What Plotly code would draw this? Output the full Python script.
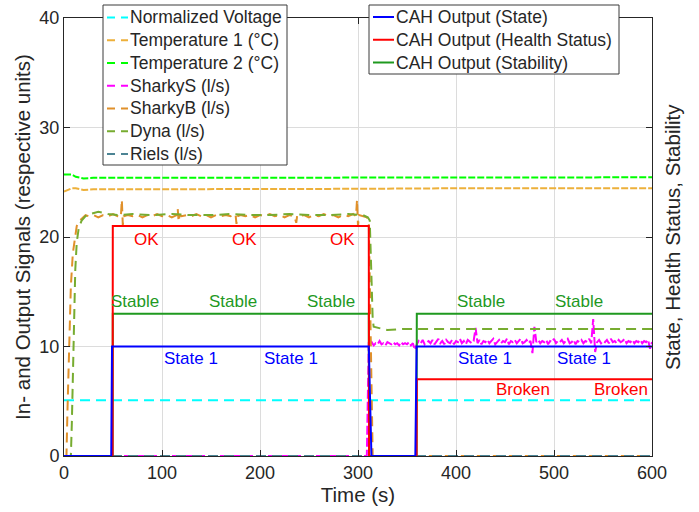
import plotly.graph_objects as go

# ---------------- data ----------------
voltage_t = [0, 600]
voltage_v = [5.1, 5.1]

temp1_t = [0, 4, 8, 12, 16, 20, 30, 50, 100, 200, 300, 400, 500, 600]
temp1_v = [24.15, 24.3, 24.45, 24.45, 24.35, 24.3, 24.35, 24.35, 24.35, 24.4, 24.4, 24.45, 24.45, 24.45]

temp2_t = [0, 4, 8, 12, 16, 20, 30, 50, 100, 200, 300, 400, 500, 600]
temp2_v = [25.7, 25.72, 25.7, 25.5, 25.4, 25.35, 25.4, 25.4, 25.42, 25.42, 25.45, 25.45, 25.45, 25.45]

sharkys_head_t = [0, 309, 311]
sharkys_head_v = [0, 0, 10.4]
sharkys_noise_start = 312
sharkys_noise_step = 2
sharkys_noise_v = [
    10.2, 10.4, 10.1, 10.3, 10.2, 10.5, 10.2, 10.3, 10.1, 10.4,
    10.3, 10.2, 10.4, 10.2, 10.3, 10.1, 10.4, 10.2, 10.3, 10.2,
    10.4, 10.1, 10.3, 9.7, 10.2, 10.5, 10.3, 10.6, 10.2, 10.4,
    10.5, 10.3, 10.6, 10.2, 10.4, 10.7, 10.3, 10.5, 10.2, 10.6,
    10.4, 10.3, 10.6, 10.2, 10.5, 10.4, 10.7, 10.3, 10.5, 10.2,
    10.6, 10.4, 10.3, 10.5, 11.7, 10.3, 10.6, 10.2, 10.5, 10.4,
    10.6, 10.3, 10.5, 10.7, 10.2, 10.4, 10.6, 10.3, 10.5, 10.4,
    10.7, 10.2, 10.5, 10.4, 10.6, 10.3, 10.5, 10.7, 10.3, 10.4,
    10.6, 10.3, 10.5, 9.4, 11.8, 10.4, 10.6, 10.3, 10.5, 10.4,
    10.6, 10.2, 10.5, 10.4, 10.7, 10.3, 10.5, 10.4, 10.6, 10.3,
    10.5, 10.7, 10.3, 10.4, 10.6, 10.2, 10.5, 10.4, 10.6, 10.3,
    10.5, 10.4, 10.7, 10.3, 12.5, 9.5, 10.4, 10.6, 10.3, 10.5,
    10.4, 10.6, 10.3, 10.7, 10.4, 10.5, 10.3, 10.6, 10.4, 10.5,
    10.7, 10.3, 10.5, 10.4, 10.6, 10.3, 10.5, 10.4, 10.6, 10.3,
    10.5, 10.4, 10.6, 9.8, 10.4,
]

sharkyb_t = [0, 2.5, 3.5, 5, 7, 9, 11, 13, 16, 19, 22,
             25, 30, 35, 40, 45, 50, 55, 58, 59, 60, 61, 65, 70, 75, 80, 85, 90, 95,
             100, 105, 110, 115, 116, 117, 118, 120, 125, 130, 135, 140, 145, 150,
             155, 160, 165, 170, 175, 176, 177, 180, 185, 190, 195, 200, 205, 210,
             215, 220, 225, 230, 235, 237, 238, 240, 245, 250, 255, 260, 265, 270,
             275, 280, 285, 290, 295, 298, 299, 300, 301, 305, 309, 311, 312.5, 314,
             315, 600]
sharkyb_v = [0, 0, 4, 9, 15.5, 18.5, 20, 21, 21.5, 21.8, 22.0,
             21.9, 22.0, 21.8, 22.0, 21.9, 22.1, 21.9, 21.8, 23.4, 21.1, 21.9, 22.0, 21.9, 22.0, 21.8, 22.0, 21.9, 22.1,
             21.9, 22.0, 21.8, 22.0, 22.6, 21.4, 22.0, 21.9, 22.0, 21.9, 22.1, 21.9, 22.0, 21.8,
             22.0, 21.9, 22.0, 21.9, 22.1, 21.2, 21.9, 22.0, 21.9, 22.0, 21.8, 22.0, 21.9, 22.1,
             21.9, 22.0, 21.8, 22.0, 21.9, 21.3, 22.0, 21.9, 22.0, 21.8, 22.0, 21.9, 22.1, 21.9,
             22.0, 21.8, 22.0, 21.9, 22.1, 21.9, 23.4, 21.0, 22.0, 21.9, 21.8, 21.5, 12, 3,
             0, 0]

dyna_t = [0, 7, 8, 9, 10, 11.5, 13, 15, 18, 22, 27, 35, 45, 55, 70, 90, 110, 130,
          150, 170, 190, 210, 230, 250, 270, 290, 305, 310, 312, 313.5, 315, 316,
          320, 330, 345, 400, 500, 600]
dyna_v = [0, 0, 3, 8, 13, 17, 19.5, 20.8, 21.5, 21.9, 22.1, 22.3, 22.1, 22.0, 22.1, 22.0, 22.1, 22.0,
          22.0, 22.1, 22.0, 22.0, 22.1, 22.0, 22.0, 22.1, 22.0, 21.8, 21.5, 17, 12.5, 11.8,
          11.7, 11.5, 11.6, 11.6, 11.6, 11.6]

riels_t = [0, 600]
riels_v = [0, 0]

state_t = [0, 48.2, 49.0, 311, 313.7, 358.5, 359.8, 600]
state_v = [0, 0, 10, 10, 0, 0, 10, 10]

health_t = [0, 49.6, 49.8, 311, 311.3, 359.8, 360, 600]
health_v = [0, 0, 21, 21, 0, 0, 7, 7]

stability_t = [0, 49.6, 49.8, 311, 311.3, 359.8, 360, 600]
stability_v = [0, 0, 13, 13, 0, 0, 13, 13]

ok_x = [99, 199, 299]
ok_y = 19.8
stable_x = [99, 199, 299, 452, 552]
stable_y = 14.15
state_lbl_x = [100.5, 202, 400.5, 501.5]
state_lbl_y = 8.95
broken_x = [498, 598]
broken_y = 6.1

x_ticks = [0, 100, 200, 300, 400, 500, 600]
y_ticks = [0, 10, 20, 30, 40]

# ---------------- figure ----------------
FONT = "Liberation Sans, Arial, sans-serif"
TXT = "#262626"
DASH = "10px,6px"

# plot-area geometry (pixels) used to place the two legend boxes
W, H = 699, 512
ML, MR, MT, MB = 64, 47, 18, 56
PW, PH = W - ML - MR, H - MT - MB


def px_x(p):
    return (p - ML) / PW


def px_y(p):
    return (H - MB - p) / PH


sharkys_t = sharkys_head_t + [sharkys_noise_start + i * sharkys_noise_step for i in range(len(sharkys_noise_v))]
sharkys_v = sharkys_head_v + sharkys_noise_v

fig = go.Figure()

dashed = [
    ("Normalized Voltage", voltage_t, voltage_v, "#00FFFF", DASH),
    ("Temperature 1 (°C)", temp1_t, temp1_v, "#EDB03A", "7px,2px"),
    ("Temperature 2 (°C)", temp2_t, temp2_v, "#00FF00", "7px,2px"),
    ("SharkyS (l/s)", sharkys_t, sharkys_v, "#FF00FF", "9px,3px"),
    ("SharkyB (l/s)", sharkyb_t, sharkyb_v, "#E0902A", DASH),
    ("Dyna (l/s)", dyna_t, dyna_v, "#77AC30", DASH),
    ("Riels (l/s)", riels_t, riels_v, "#4C8494", DASH),
]
for name, t, v, c, d in dashed:
    fig.add_trace(go.Scatter(x=t, y=v, mode="lines", name=name, showlegend=False,
                             line=dict(color=c, width=2, dash=d)))

cah_legend_order = [
    ("CAH Output (State)", "#0000FF"),
    ("CAH Output (Health Status)", "#FF0000"),
    ("CAH Output (Stability)", "#1F991F"),
]
cah = [
    ("CAH Output (Stability)", stability_t, stability_v, "#1F991F"),
    ("CAH Output (Health Status)", health_t, health_v, "#FF0000"),
    ("CAH Output (State)", state_t, state_v, "#0000FF"),
]
for name, t, v, c in cah:
    fig.add_trace(go.Scatter(x=t, y=v, mode="lines", name=name, showlegend=False,
                             line=dict(color=c, width=2)))

ann = []
shapes = []


def lbl(x, y, text, color, anchor):
    ann.append(dict(x=x, y=y, xref="x", yref="y", text=text, showarrow=False,
                    xanchor=anchor, yanchor="middle",
                    font=dict(family=FONT, size=17, color=color)))


for x in ok_x:
    lbl(x, ok_y, "OK", "#FF0000", "right")
for x in stable_x:
    lbl(x, stable_y, "Stable", "#1F991F", "right")
for x in state_lbl_x:
    lbl(x, state_lbl_y, "State 1", "#0000FF", "left")
for x in broken_x:
    lbl(x, broken_y, "Broken", "#FF0000", "right")

ann.append(dict(x=1.0, xref="paper", y=0.5, yref="paper", xshift=20,
                text="State, Health Status, Stability", textangle=-90,
                showarrow=False, xanchor="center", yanchor="middle",
                font=dict(family=FONT, size=20.5, color=TXT)))


# ---- legend boxes (Matlab-style) ----
def legend_box(x0, x1, y0, y1, items, sample_dash, y_first, step):
    shapes.append(dict(type="rect", xref="paper", yref="paper", layer="above",
                       x0=px_x(x0), x1=px_x(x1), y0=px_y(y1), y1=px_y(y0),
                       fillcolor="white", line=dict(color="#3a3a3a", width=1)))
    for k, (name, color) in enumerate(items):
        yy = y_first + k * step
        shapes.append(dict(type="line", xref="paper", yref="paper", layer="above",
                           x0=px_x(x0 + 4), x1=px_x(x0 + 25), y0=px_y(yy), y1=px_y(yy),
                           line=dict(color=color, width=2, dash=sample_dash)))
        ann.append(dict(x=px_x(x0 + 25), y=px_y(yy), xref="paper", yref="paper",
                        text=name, showarrow=False, xanchor="left", yanchor="middle",
                        font=dict(family=FONT, size=17.5, color=TXT)))


legend_box(103, 287, 5, 165, [(n, c) for n, _, _, c, _ in dashed], "8px,6px", 17.5, 22.75)
legend_box(369, 619, 5, 74, cah_legend_order, "solid", 17, 22.75)

axis_common = dict(showline=True, linecolor=TXT, linewidth=1, mirror="ticks",
                   ticks="inside", ticklen=6, tickcolor=TXT,
                   showgrid=True, gridcolor="#DCDCDC", gridwidth=1,
                   zeroline=False, automargin=False,
                   tickfont=dict(family=FONT, size=18, color=TXT))

fig.update_layout(
    width=W, height=H,
    margin=dict(l=ML, r=MR, t=MT, b=MB, autoexpand=False),
    paper_bgcolor="white", plot_bgcolor="white",
    font=dict(family=FONT, color=TXT),
    xaxis=dict(range=[0, 600], tickvals=x_ticks,
               title=dict(text="Time (s)", font=dict(family=FONT, size=20.5, color=TXT), standoff=2),
               **axis_common),
    yaxis=dict(range=[0, 40], tickvals=y_ticks,
               title=dict(text="In- and Output Signals (respective units)",
                          font=dict(family=FONT, size=20.5, color=TXT), standoff=3),
               **axis_common),
    annotations=ann,
    shapes=shapes,
    showlegend=False,
)

fig.write_html("out.html", config={"displayModeBar": False},
               post_script="document.body.style.margin='0';")
